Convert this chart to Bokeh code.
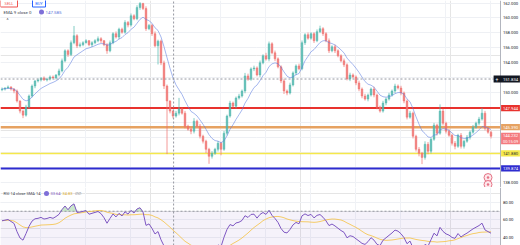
import numpy as np
import pandas as pd
from bokeh.plotting import figure
from bokeh.layouts import column
from bokeh.models import ColumnDataSource, Range1d, Grid, FixedTicker
from bokeh.embed import file_html
from bokeh.resources import INLINE
from bokeh.core.properties import value

# ---------------- data ----------------
closes = [
    150.50, 150.63, 150.77, 150.50, 150.23, 148.89, 147.54, 147.00, 148.08, 149.56,
    150.90, 151.58, 151.71, 151.98, 151.71, 151.85, 152.11, 151.98, 152.38, 152.92,
    154.27, 155.61, 155.10, 156.69, 157.63, 156.28, 156.42, 156.69, 156.96, 156.42,
    156.69, 156.96, 157.23, 156.96, 156.42, 155.61, 156.69, 157.90, 157.45, 158.50,
    158.10, 159.40, 159.05, 160.30, 159.90, 161.40, 161.93, 161.26, 158.57, 159.00,
    157.90, 156.28, 156.90, 153.99, 150.90, 148.89, 147.54, 146.87, 147.27, 147.81,
    147.27, 145.52, 145.12, 144.85, 146.20, 145.52, 144.18, 143.51, 142.43, 141.49,
    141.89, 142.43, 143.24, 142.43, 144.58, 146.87, 148.62, 148.20, 149.29, 149.56,
    150.23, 152.25, 151.80, 153.19, 153.32, 152.38, 154.00, 154.94, 154.50, 156.55,
    155.34, 154.53, 153.46, 151.58, 150.23, 149.96, 151.04, 152.65, 153.59, 153.20,
    156.69, 157.76, 157.30, 157.90, 156.96, 158.17, 158.57, 157.90, 156.96, 155.61,
    156.15, 155.61, 154.94, 154.27, 153.73, 151.85, 152.38, 152.11, 151.31, 150.50,
    149.56, 149.15, 149.69, 150.50, 149.69, 148.08, 147.54, 148.62, 149.15, 149.69,
    150.23, 150.90, 150.63, 149.96, 148.89, 146.73, 147.27, 144.18, 142.43, 141.89,
    141.35, 143.10, 142.17, 143.77, 145.66, 144.58, 147.54, 145.92, 144.85, 144.31,
    143.24, 142.83, 144.31, 142.83, 143.51, 144.04, 144.72, 145.39, 145.93, 146.47,
    147.27, 145.26, 144.72, 144.18,
]
first_open = 150.40
# wick lengths in tenths of a yen
wick_up = [
    2, 1, 2, 1, 1, 2, 1, 2, 3, 2,
    2, 1, 2, 1, 2, 1, 2, 2, 1, 3,
    3, 2, 2, 3, 13, 2, 3, 2, 2, 1,
    2, 2, 3, 2, 1, 2, 3, 2, 3, 2,
    2, 3, 2, 3, 2, 3, 2, 1, 3, 2,
    2, 3, 2, 2, 3, 2, 1, 2, 3, 15,
    2, 3, 2, 2, 4, 2, 3, 2, 2, 2,
    3, 2, 3, 2, 3, 2, 3, 2, 2, 3,
    2, 4, 3, 2, 3, 2, 3, 2, 4, 3,
    2, 3, 2, 2, 3, 2, 3, 2, 2, 3,
    3, 2, 3, 2, 2, 3, 4, 2, 2, 3,
    2, 3, 2, 2, 3, 2, 3, 2, 2, 3,
    2, 3, 2, 2, 3, 2, 2, 3, 2, 3,
    2, 3, 2, 3, 2, 2, 3, 2, 2, 3,
    2, 4, 3, 2, 3, 2, 9, 3, 2, 3,
    2, 3, 2, 3, 2, 3, 2, 3, 2, 3,
    7, 3, 2, 2,
]
wick_dn = [
    2, 2, 1, 2, 3, 2, 3, 4, 2, 2,
    2, 3, 2, 2, 1, 2, 2, 1, 2, 2,
    2, 2, 3, 2, 2, 3, 2, 2, 1, 2,
    3, 2, 2, 3, 2, 4, 2, 2, 2, 3,
    2, 2, 3, 2, 2, 2, 3, 2, 3, 2,
    3, 2, 25, 3, 4, 71, 3, 3, 2, 3,
    2, 3, 2, 4, 3, 2, 3, 3, 5, 10,
    3, 2, 3, 8, 2, 3, 2, 2, 3, 2,
    2, 3, 2, 2, 3, 2, 3, 2, 2, 3,
    2, 3, 2, 3, 4, 3, 2, 2, 3, 2,
    2, 3, 2, 2, 3, 2, 2, 3, 2, 3,
    2, 3, 2, 2, 3, 2, 3, 2, 3, 3,
    3, 2, 3, 2, 3, 3, 2, 2, 3, 2,
    2, 3, 2, 3, 3, 3, 2, 3, 3, 4,
    9, 3, 4, 3, 2, 3, 2, 3, 3, 2,
    3, 4, 2, 3, 3, 2, 3, 2, 2, 3,
    2, 3, 2, 3,
]

price_ticks = [162, 160, 158, 156, 154, 152, 150, 148, 146, 144, 142, 140, 138]
rsi_ticks = [80, 60, 40]

levels = [147.944, 145.390, 141.880, 139.874]
level_labels = ["147.944", "145.390", "141.880", "139.874"]
level_colors = ["#e8322e", "#e6a262", "#f5e84a", "#2e2ccf"]
level_text_colors = ["#ffffff", "#ffffff", "#333333", "#ffffff"]
level_widths = [2, 2.5, 1.5, 2]

last_price = 144.232
last_price_label = "144.232"
countdown_label = "00:15:09"
cross_price = 151.834
cross_price_label = "151.834"
cross_bar = 57

ema_period = 9
ema_legend = "EMA 9 close 0"
ema_value = "147.585"
rsi_period = 14
rsi_legend = "RSI 14 close SMA 14"
rsi_values = ["33.64", "34.83"]
event_prices = [138.65, 137.72]

# ---------------- layout constants ----------------
W = 520
H_MAIN, H_RSI = 187, 58
PXW = 3.0                      # pixels per bar
XMAX = W / PXW
XSEP = 500 / PXW               # price-scale separator
PMAX, PPX = 162.34, 0.1338     # price at top, price per pixel
PMIN = PMAX - H_MAIN * PPX
RMAX, RPX = 97.14, 1 / 0.875
RMIN = RMAX - H_RSI * RPX
FONT = value("Roboto")
AX_FS = "4.2px"
LG_FS = "4.4px"

n = min(len(closes), len(wick_up), len(wick_dn))
c = np.array(closes[:n])
o = np.concatenate([[first_open], c[:-1]])
hi = np.maximum(o, c) + np.array(wick_up[:n]) / 10
lo = np.minimum(o, c) - np.array(wick_dn[:n]) / 10
x = np.arange(n) + 0.5
up = c >= o

ema = pd.Series(c).ewm(span=ema_period, adjust=False).mean().values

# Wilder RSI, seeded with the first-period averages
diff = np.diff(np.concatenate([[first_open], c]))
gains = np.clip(diff, 0, None)
losses = np.clip(-diff, 0, None)
ag = gains[:rsi_period].mean()
al = losses[:rsi_period].mean()
rsi = np.zeros(n)
for i in range(n):
    ag = (ag * (rsi_period - 1) + gains[i]) / rsi_period
    al = (al * (rsi_period - 1) + losses[i]) / rsi_period
    rsi[i] = 100 - 100 / (1 + ag / max(al, 1e-9))
rsi_sma = pd.Series(rsi).rolling(rsi_period, min_periods=1).mean().values


def txt(p, xx, yy, s, color, size=AX_FS, align="left", bold=False):
    p.text(x=[xx], y=[yy], text=[s], text_color=color, text_font_size=size,
           text_align=align, text_baseline="middle", text_font=FONT,
           text_font_style="bold" if bold else "normal")


def base_fig(h, yr):
    p = figure(width=W, height=h, x_range=Range1d(0, XMAX), y_range=Range1d(*yr),
               output_backend="svg", toolbar_location=None,
               x_axis_location=None, y_axis_location=None, min_border=0)
    p.outline_line_color = None
    p.background_fill_color = "white"
    return p


vgrid = [13.3, 28.3, 43.3, 73.3, 88.3, 103.3, 118.3, 133.3, 148.3, 163.3]
LX = XSEP + 0.8   # label x

# ---------------- main pane ----------------
pm = base_fig(H_MAIN, (PMIN, PMAX))
pm.add_layout(Grid(dimension=1, ticker=FixedTicker(ticks=price_ticks),
                   grid_line_color="#eef0f4", grid_line_width=1))
pm.add_layout(Grid(dimension=0, ticker=FixedTicker(ticks=vgrid),
                   grid_line_color="#f0f2f6", grid_line_width=1))

pm.segment(x0=0, x1=XSEP, y0=levels, y1=levels, line_color=level_colors,
           line_width=level_widths)

src = ColumnDataSource(dict(x=x, o=o, c=c, hi=hi, lo=lo,
                            col=np.where(up, "#4db6ac", "#ef6f6c"),
                            top=np.maximum(o, c), bot=np.minimum(o, c)))
pm.segment(x0="x", x1="x", y0="lo", y1="hi", line_color="col", line_width=1,
           line_alpha=0.7, source=src)
pm.vbar(x="x", width=0.62, top="top", bottom="bot", fill_color="col",
        line_color="col", line_width=0.5, fill_alpha=0.75, line_alpha=0.75, source=src)

pm.line(x, ema, line_color="#5b7be0", line_width=1, line_alpha=0.55)

cx = cross_bar + 0.5 + 0.2
pm.segment(x0=[cx], x1=[cx], y0=[PMIN], y1=[PMAX], line_color="#9598a1",
           line_dash="2 2", line_width=1)
pm.segment(x0=[0], x1=[XSEP - 2.3], y0=[cross_price], y1=[cross_price],
           line_color="#9598a1", line_dash="2 2", line_width=1)

pm.quad(left=[XSEP], right=[XMAX], bottom=[PMIN], top=[PMAX], fill_color="white",
        line_color=None)
pm.segment(x0=[XSEP], x1=[XSEP], y0=[PMIN], y1=[PMAX], line_color="#b2b5be",
           line_width=1)

box_centers = levels + [last_price - 0.35, cross_price]
for t in price_ticks:
    if min(abs(t - b) for b in box_centers) < 0.85:
        continue
    txt(pm, LX, t, f"{t:.3f}", "#131722")

bh = 0.42
for lv, lab, col, tc in zip(levels, level_labels, level_colors, level_text_colors):
    pm.quad(left=[XSEP + 0.2], right=[XMAX - 0.2], bottom=[lv - bh], top=[lv + bh],
            fill_color=col, line_color=None)
    txt(pm, LX, lv, lab, tc)

cd_price = last_price - 0.7
pm.quad(left=[XSEP + 0.2], right=[XMAX - 0.2], bottom=[cd_price - bh],
        top=[last_price + bh], fill_color="#f47a7e", line_color=None)
txt(pm, LX, last_price, last_price_label, "#ffffff")
txt(pm, LX, cd_price, countdown_label, "#ffffff", size="4px")

pm.quad(left=[XSEP - 2.3], right=[XMAX - 0.2], bottom=[cross_price - 0.47],
        top=[cross_price + 0.47], fill_color="#131722", line_color=None)
txt(pm, XSEP - 1.2, cross_price, "+", "#ffffff", size="5px", align="center")
txt(pm, LX, cross_price, cross_price_label, "#ffffff")

ex = [n - 1.5] * len(event_prices)
pm.scatter(ex, event_prices, marker="circle", size=8, fill_color="#fde8ec",
           line_color="#e57385", line_width=1)
pm.scatter(ex, event_prices, marker="circle", size=2.5, fill_color="#e57385",
           line_color=None)

# buy / sell buttons and legend
pm.quad(left=[0], right=[17 / PXW], top=[PMAX + 0.3], bottom=[PMAX - 6.5 * PPX],
        fill_color="white", line_color="#ef5350", line_width=1)
txt(pm, 8.5 / PXW, PMAX - 3.3 * PPX, "SELL", "#ef5350", size="4px", align="center")
pm.quad(left=[32 / PXW], right=[45 / PXW], top=[PMAX + 0.3], bottom=[PMAX - 6.5 * PPX],
        fill_color="white", line_color="#2962ff", line_width=1)
txt(pm, 38.5 / PXW, PMAX - 3.3 * PPX, "BUY", "#2962ff", size="4px", align="center")

ly = PMAX - 11.5 * PPX
txt(pm, 3 / PXW, ly, ema_legend, "#434651", size=LG_FS)
pm.scatter([41 / PXW], [ly], marker="circle", size=5, fill_color="#7e6fd8",
           line_color=None)
txt(pm, 45 / PXW, ly, ema_value, "#5b6fd8", size=LG_FS)
txt(pm, 7 / PXW, PMAX - 19.5 * PPX, "^", "#434651", size="5px", align="center")

# ---------------- RSI pane ----------------
pr = base_fig(H_RSI, (RMIN, RMAX))
pr.add_layout(Grid(dimension=1, ticker=FixedTicker(ticks=rsi_ticks),
                   grid_line_color="#eef0f4", grid_line_width=1))
pr.add_layout(Grid(dimension=0, ticker=FixedTicker(ticks=vgrid),
                   grid_line_color="#f0f2f6", grid_line_width=1))
pr.quad(left=[0], right=[XSEP], bottom=[30], top=[70], fill_color="#7e57c2",
        fill_alpha=0.08, line_color=None)
pr.segment(x0=[0], x1=[XSEP], y0=[70], y1=[70], line_color="#9598a1",
           line_dash="2 2", line_width=1)
pr.varea(x=x, y1=np.full(n, 70.0), y2=np.maximum(rsi, 70), fill_color="#66bb6a",
         fill_alpha=0.35)
pr.varea(x=x, y1=np.minimum(rsi, 30), y2=np.full(n, 30.0), fill_color="#ef5350",
         fill_alpha=0.25)
pr.line(x, rsi_sma, line_color="#f5c242", line_width=1, line_alpha=0.8)
pr.line(x, rsi, line_color="#7e57c2", line_width=1)
pr.segment(x0=[cx], x1=[cx], y0=[RMIN], y1=[RMAX], line_color="#9598a1",
           line_dash="2 2", line_width=1)
pr.quad(left=[XSEP], right=[XMAX], bottom=[RMIN], top=[RMAX], fill_color="white",
        line_color=None)
pr.segment(x0=[XSEP], x1=[XSEP], y0=[RMIN], y1=[RMAX], line_color="#b2b5be",
           line_width=1)
for t in rsi_ticks:
    txt(pr, LX, t, f"{t:.2f}", "#131722")
ry = RMAX - 6 * RPX
txt(pr, 3 / PXW, ry, rsi_legend, "#434651", size="4px")
pr.scatter([46 / PXW], [ry], marker="circle", size=5, fill_color="#7e6fd8",
           line_color=None)
txt(pr, 50 / PXW, ry, rsi_values[0], "#7e57c2", size="4px")
txt(pr, 62 / PXW, ry, rsi_values[1], "#e0b030", size="4px")
txt(pr, 74 / PXW, ry, "∅ ∅", "#787b86", size="4px")

layout = column(pm, pr, spacing=0)
open("out.html", "w").write(file_html(layout, INLINE))
